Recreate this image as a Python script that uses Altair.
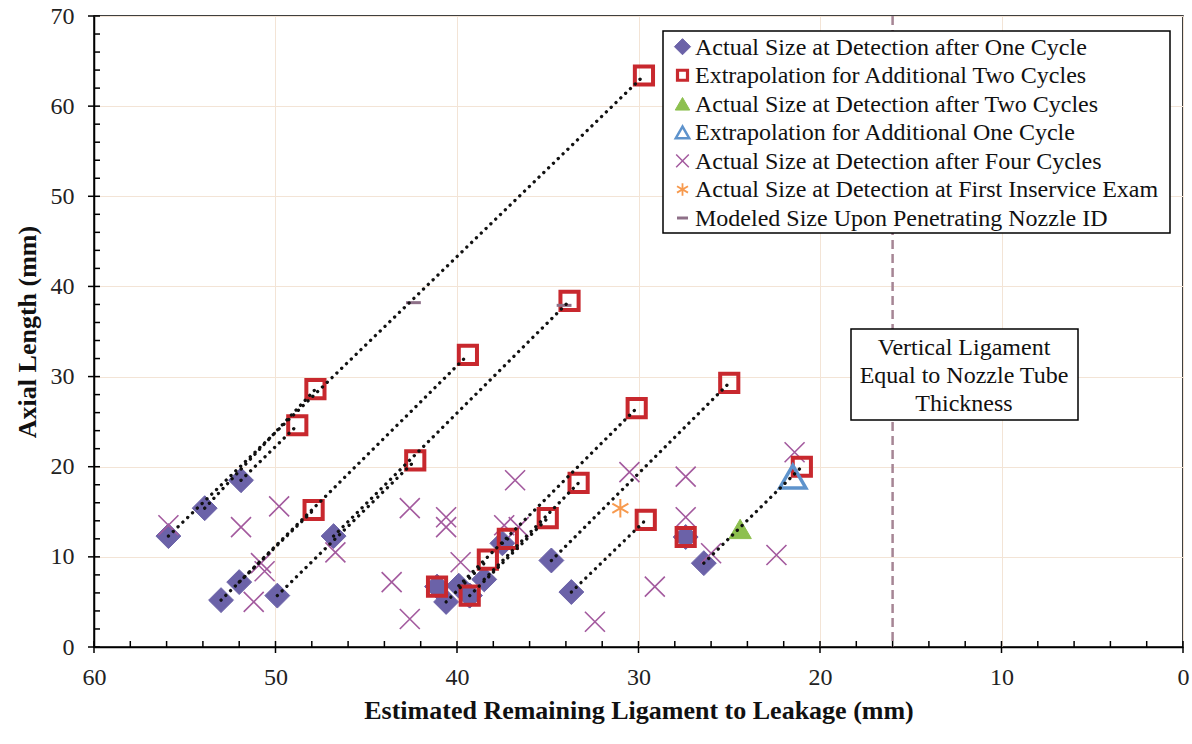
import altair as alt
import pandas as pd

# ---------------- data ----------------
series_names = [
    "Actual Size at Detection after One Cycle",
    "Extrapolation for Additional Two Cycles",
    "Actual Size at Detection after Two Cycles",
    "Extrapolation for Additional One Cycle",
    "Actual Size at Detection after Four Cycles",
    "Actual Size at Detection at First Inservice Exam",
    "Modeled Size Upon Penetrating Nozzle ID",
]

one_x = [55.9, 53.9, 51.9, 53.0, 52.0, 49.9, 46.8, 41.1, 40.6, 39.9, 39.3, 38.5, 37.5, 34.8, 33.7, 27.4, 26.4, 39.3]
one_y = [12.3, 15.4, 18.5, 5.2, 7.2, 5.7, 12.3, 6.7, 5.0, 6.8, 5.7, 7.5, 11.5, 9.6, 6.1, 12.2, 9.3, 5.7]
ext2_x = [29.7, 47.8, 48.8, 39.4, 47.9, 42.3, 33.8, 41.1, 38.3, 30.1, 39.3, 33.3, 37.2, 25.0, 29.6, 27.4, 21.0, 35.0]
ext2_y = [63.4, 28.6, 24.6, 32.4, 15.2, 20.7, 38.4, 6.7, 9.7, 26.5, 5.7, 18.2, 12.0, 29.3, 14.1, 12.2, 20.0, 14.3]
two_x = [24.4]
two_y = [13.1]
ext1_x = [21.5]
ext1_y = [18.9]
four_x = [55.9, 51.9, 49.8, 50.8, 50.6, 51.2, 46.7, 43.6, 42.6, 42.6, 40.6, 40.6, 39.8, 36.8,
          37.4, 36.6, 32.4, 30.5, 29.1, 27.4, 27.4, 26.0, 22.4, 21.4]
four_y = [13.5, 13.3, 15.6, 9.3, 8.4, 5.0, 10.5, 7.2, 15.4, 3.1, 14.4, 13.3, 9.4, 18.5,
          13.5, 13.3, 2.8, 19.4, 6.7, 18.9, 14.4, 10.4, 10.2, 21.6]
first_x = [31.0]
first_y = [15.4]
model_x = [42.4, 34.1]
model_y = [38.2, 37.9]
ligament_limit = [16]

x_ticks_major = list(range(0, 61, 10))
x_ticks_minor = [v for v in range(0, 61, 2) if v % 10]
y_ticks_major = list(range(0, 71, 10))
y_ticks_minor = [v for v in range(0, 71, 2) if v % 10]

# ---------------- tables ----------------
groups = [(one_x, one_y), (ext2_x, ext2_y), (two_x, two_y), (ext1_x, ext1_y),
          (four_x, four_y), (first_x, first_y), (model_x, model_y)]
draw_order = [0, 4, 1, 2, 3, 5, 6]
rows = []
for i, (xs, ys) in enumerate(groups):
    for xv, yv in zip(xs, ys):
        rows.append({"x": xv, "y": yv, "series": series_names[i], "ord": draw_order.index(i)})
pts = pd.DataFrame(rows)

segs = pd.DataFrame([
    {"x": a, "y": b, "x2": c, "y2": d}
    for a, b, c, d in zip(one_x, one_y, ext2_x, ext2_y) if (a, b) != (c, d)
])

W, H = 1089, 631
FONT = "Liberation Serif"
XT = "Estimated Remaining Ligament to Leakage (mm)"
YT = "Axial Length (mm)"

fill_range = ["#6B62A8", "transparent", "#8DC04F", "transparent", "transparent", "transparent", "transparent"]
stroke_range = ["#6B62A8", "#C8282E", "#8DC04F", "#5E93CC", "#A35A9E", "#F79A4E", "#8E7088"]
shape_range = ["diamond", "square", "triangle-up", "triangle-up",
               "M-1,-1L1,1M-1,1L1,-1",
               "M0,-1L0,1M-0.87,-0.5L0.87,0.5M-0.87,0.5L0.87,-0.5",
               "M-1,0L1,0"]
size_range = [620, 330, 500, 680, 400, 340, 220]
sw_range = [1, 4, 1, 3.5, 1.6, 2, 3]
# legend symbol styles
leg_size = [260, 100, 210, 180, 160, 160, 120]
leg_sw = [1, 3.2, 1, 2.5, 1.5, 1.8, 3]

xscale = alt.Scale(domain=[0, 60], reverse=True, nice=False, zero=False)
yscale = alt.Scale(domain=[0, 70], nice=False, zero=False)

x_axis = alt.Axis(values=x_ticks_major, title=XT, ticks=False, grid=True,
                  labelPadding=18, titlePadding=8)
y_axis = alt.Axis(values=y_ticks_major, title=YT, ticks=False, grid=True,
                  labelPadding=20, titlePadding=10)

X = alt.X("x:Q", scale=xscale, axis=x_axis, title=XT)
Y = alt.Y("y:Q", scale=yscale, axis=y_axis, title=YT)

points = alt.Chart(pts).mark_point(filled=False, opacity=1).encode(
    x=X, y=Y,
    fill=alt.Fill("series:N", scale=alt.Scale(domain=series_names, range=fill_range), legend=None),
    stroke=alt.Stroke("series:N", scale=alt.Scale(domain=series_names, range=stroke_range), legend=None),
    shape=alt.Shape("series:N", scale=alt.Scale(domain=series_names, range=shape_range), legend=None),
    size=alt.Size("series:N", scale=alt.Scale(type="ordinal", domain=series_names, range=size_range), legend=None),
    strokeWidth=alt.StrokeWidth("series:N", scale=alt.Scale(type="ordinal", domain=series_names, range=sw_range), legend=None),
    order=alt.Order("ord:Q"),
)

lines = alt.Chart(segs).mark_rule(color="#111111", strokeWidth=3.3, strokeDash=[0.1, 6.6],
                                  strokeCap="round").encode(
    x=X, y=Y, x2="x2:Q", y2="y2:Q",
)

vline = alt.Chart(pd.DataFrame({"x": ligament_limit})).mark_rule(
    color="#A68595", strokeWidth=2.5, strokeDash=[9, 5]).encode(x=X)

box_df = pd.DataFrame({"t": ["Vertical Ligament\nEqual to Nozzle Tube\nThickness"]})
box = alt.Chart(box_df).mark_rect(fill="white", stroke="black", strokeWidth=1.5).encode(
    x=alt.value(757), x2=alt.value(984), y=alt.value(313), y2=alt.value(404))
box_text = alt.Chart(box_df).mark_text(font=FONT, fontSize=24, color="#111111", lineBreak="\n",
                                       lineHeight=28, align="center", baseline="middle").encode(
    x=alt.value(870), y=alt.value(332), text="t:N")

xt_major = alt.Chart(pd.DataFrame({"x": x_ticks_major})).mark_rule(color="black", strokeWidth=1.5).encode(
    x=X, y=alt.value(H - 6), y2=alt.value(H + 6))
xt_minor = alt.Chart(pd.DataFrame({"x": x_ticks_minor})).mark_rule(color="black", strokeWidth=1.5).encode(
    x=X, y=alt.value(H - 6), y2=alt.value(H))
yt_major = alt.Chart(pd.DataFrame({"y": y_ticks_major})).mark_rule(color="black", strokeWidth=1.5).encode(
    y=Y, x=alt.value(-6), x2=alt.value(6))
yt_minor = alt.Chart(pd.DataFrame({"y": y_ticks_minor})).mark_rule(color="black", strokeWidth=1.5).encode(
    y=Y, x=alt.value(0), x2=alt.value(6))

# ---------------- legend (drawn as marks) ----------------
LX0, LX1, LY0, LY1 = 569, 1076, 15, 217
ROW0, ROWSTEP = 30.7, 28.55
SYMX, TXTX = 588.5, 601
leg_df = pd.DataFrame({"series": series_names})
legend_layers = [
    alt.Chart(leg_df.head(1)).mark_rect(fill="white", stroke="black", strokeWidth=1.5).encode(
        x=alt.value(LX0), x2=alt.value(LX1), y=alt.value(LY0), y2=alt.value(LY1))
]
for i, name in enumerate(series_names):
    row = leg_df.iloc[[i]]
    yy = ROW0 + ROWSTEP * i
    legend_layers.append(
        alt.Chart(row).mark_point(shape=shape_range[i], fill=fill_range[i], stroke=stroke_range[i],
                                  size=leg_size[i], strokeWidth=leg_sw[i], opacity=1).encode(
            x=alt.value(SYMX), y=alt.value(yy))
    )
    legend_layers.append(
        alt.Chart(row).mark_text(font=FONT, fontSize=24, color="#111111", align="left",
                                 baseline="middle").encode(
            x=alt.value(TXTX), y=alt.value(yy + 1), text="series:N")
    )

chart = alt.layer(
    vline, box, box_text, points, lines, xt_major, xt_minor, yt_major, yt_minor, *legend_layers
).properties(
    width=W, height=H,
    autosize=alt.AutoSizeParams(type="none"),
    padding={"left": 94, "top": 16, "right": 9, "bottom": 97},
    background="white",
).configure_view(
    stroke="black", strokeWidth=1.5
).configure_axis(
    gridColor="#F3E4D6", gridWidth=1,
    labelFont=FONT, labelFontSize=24, labelColor="#222222",
    titleFont=FONT, titleFontSize=26, titleFontWeight="bold", titleColor="#111111",
    domainColor="black", domainWidth=1.5, labelFlush=False,
)

chart.save("out.html", embed_options={"renderer": "svg", "actions": False})
